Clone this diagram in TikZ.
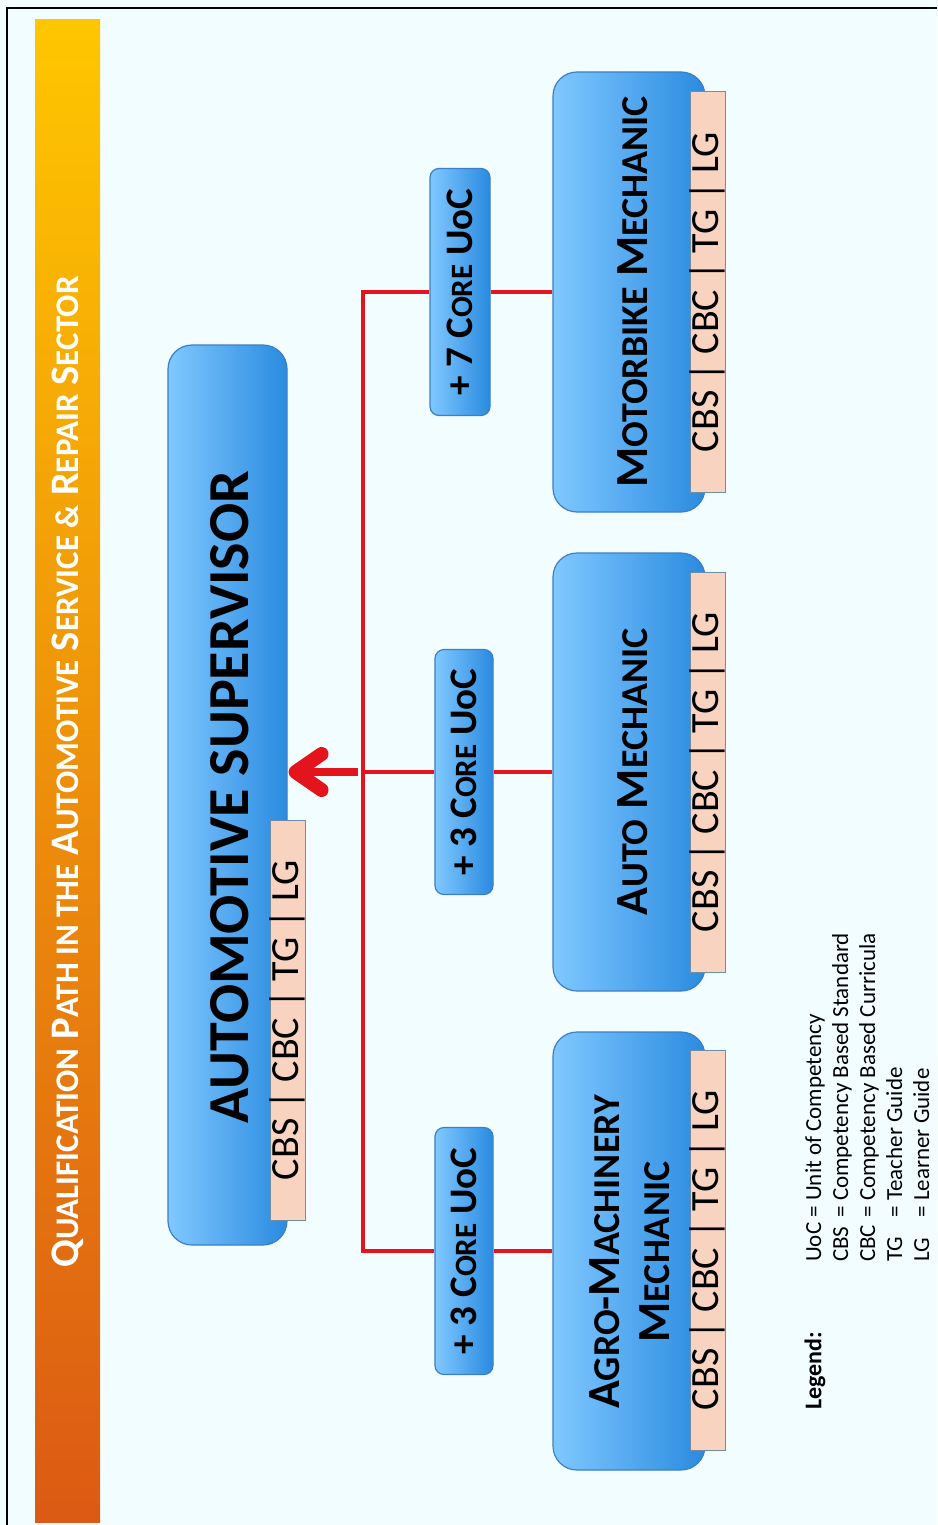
\documentclass[tikz,border=0pt]{standalone}
\usepackage{fontspec}
\setmainfont{Carlito}
\usetikzlibrary{arrows.meta}
\definecolor{bgc}{HTML}{F2FDFF}
\definecolor{barTop}{HTML}{FFC600}
\definecolor{barBot}{HTML}{DC5A14}
\definecolor{blueL}{HTML}{80C8FF}
\definecolor{blueR}{HTML}{2A8BE0}
\definecolor{blueD}{HTML}{3D7FC4}
\definecolor{peach}{HTML}{F8D3C0}
\definecolor{peachD}{HTML}{6F8CA8}
\definecolor{redc}{HTML}{E3141C}
\newcommand\scx[2]{{\fontsize{#1pt}{#1pt}\selectfont #2}}
\tikzset{
  card/.style={draw=blueD, line width=1.2pt, left color=blueL, right color=blueR,
    rounded corners=24pt, inner sep=0pt},
  uocbox/.style={card, rounded corners=9pt},
  stripbox/.style={draw=peachD, line width=1pt, fill=peach, inner sep=0pt},
  vtext/.style={rotate=90, inner sep=0pt},
  redline/.style={draw=redc, line width=3.5pt},
  mechfont/.style={font=\bfseries\fontsize{46}{50}\selectfont, align=center},
  stripfont/.style={font=\fontsize{40}{44}\selectfont},
  uocfont/.style={font=\bfseries\fontsize{39}{42}\selectfont},
}
\begin{document}
\begin{tikzpicture}[x=1pt,y=-1pt]
\fill[bgc] (0,0) rectangle (937,1525);
\useasboundingbox (0,0) rectangle (937,1525);
\draw[line width=1.5pt] (7,1525) -- (7,8) -- (937,8);
% title bar
\shade[top color=barTop, bottom color=barBot] (35,20) rectangle (100,1522);
\node[vtext, text=white, font=\bfseries\fontsize{40.5}{44}\selectfont] (title) at (68,772)
  {Q\scx{33}{UALIFICATION} P\scx{33}{ATH IN THE} A\scx{33}{UTOMOTIVE} S\scx{33}{ERVICE \&} R\scx{33}{EPAIR} S\scx{33}{ECTOR}};
\coordinate (tx) at (363,0);
% main boxes
\node[card, minimum width=119pt, minimum height=900pt] (sup) at (227.5,795) {};
\node[stripbox, minimum width=35pt, minimum height=400pt] (supstrip) at (287.5,1020) {};
\node[card, minimum width=152pt, minimum height=440pt] (moto) at (629,292) {};
\node[stripbox, minimum width=35pt, minimum height=400pt] (motostrip) at (707.5,292) {};
\node[card, minimum width=152pt, minimum height=438pt] (auto) at (629,772) {};
\node[stripbox, minimum width=35pt, minimum height=400pt] (autostrip) at (707.5,772) {};
\node[card, minimum width=152pt, minimum height=438pt] (agro) at (629,1251) {};
\node[stripbox, minimum width=35pt, minimum height=400pt] (agrostrip) at (707.5,1250) {};
% UoC boxes
\node[uocbox, minimum width=60pt, minimum height=247pt] (uoc7) at (460,292) {};
\node[uocbox, minimum width=58pt, minimum height=245pt] (uoc3a) at (464,772) {};
\node[uocbox, minimum width=58pt, minimum height=247pt] (uoc3b) at (464,1251) {};
% red connectors
\draw[redline] (uoc7.west) -- (uoc7.west -| tx) -- (uoc3b.west -| tx) -- (uoc3b.west);
\draw[redline] (uoc3a.west -| tx) -- (uoc3a.west);
\draw[redline] (uoc7.east) -- (moto.west);
\draw[redline] (uoc3a.east) -- (auto.west);
\draw[redline] (uoc3b.east) -- (agro.west);
\coordinate (as) at (358,772);
\draw[redc, line width=8pt, -{Straight Barb[length=26pt,width=36pt,line width=14pt,round]}]
  (as) -- ([xshift=1pt]sup.east |- as);
% texts
\node[vtext, font=\bfseries\fontsize{58}{64}\selectfont] (supT) at (230,797) {AUTOMOTIVE SUPERVISOR};
\node[vtext, stripfont] at (supstrip) {CBS | CBC | TG | LG};
\node[vtext, mechfont] at (633,292) {M\scx{38}{OTORBIKE} M\scx{38}{ECHANIC}};
\node[vtext, stripfont] at (motostrip) {CBS | CBC | TG | LG};
\node[vtext, mechfont] at (633,772) {A\scx{38}{UTO} M\scx{38}{ECHANIC}};
\node[vtext, stripfont] at (autostrip) {CBS | CBC | TG | LG};
\node[vtext, mechfont] at (630,1252) {A\scx{38}{GRO}-M\scx{38}{ACHINERY}\\M\scx{38}{ECHANIC}};
\node[vtext, stripfont] at (agrostrip) {CBS | CBC | TG | LG};
\node[vtext, uocfont] at (uoc7) {+ 7 C\scx{31}{ORE} UoC};
\node[vtext, uocfont] at (uoc3a) {+ 3 C\scx{31}{ORE} UoC};
\node[vtext, uocfont] at (uoc3b) {+ 3 C\scx{31}{ORE} UoC};
% legend
\node[vtext, anchor=west, font=\bfseries\fontsize{24}{28}\selectfont] (legT) at (815,1410) {Legend:};
\node[vtext, anchor=north west, font=\fontsize{23}{27}\selectfont] (leg) at (802,1262)
  {\begin{tabular}{@{}l@{ }l@{}}
   UoC & = Unit of Competency\\
   CBS & = Competency Based Standard\\
   CBC & = Competency Based Curricula\\
   TG  & = Teacher Guide\\
   LG  & = Learner Guide
   \end{tabular}};
\end{tikzpicture}
\end{document}
